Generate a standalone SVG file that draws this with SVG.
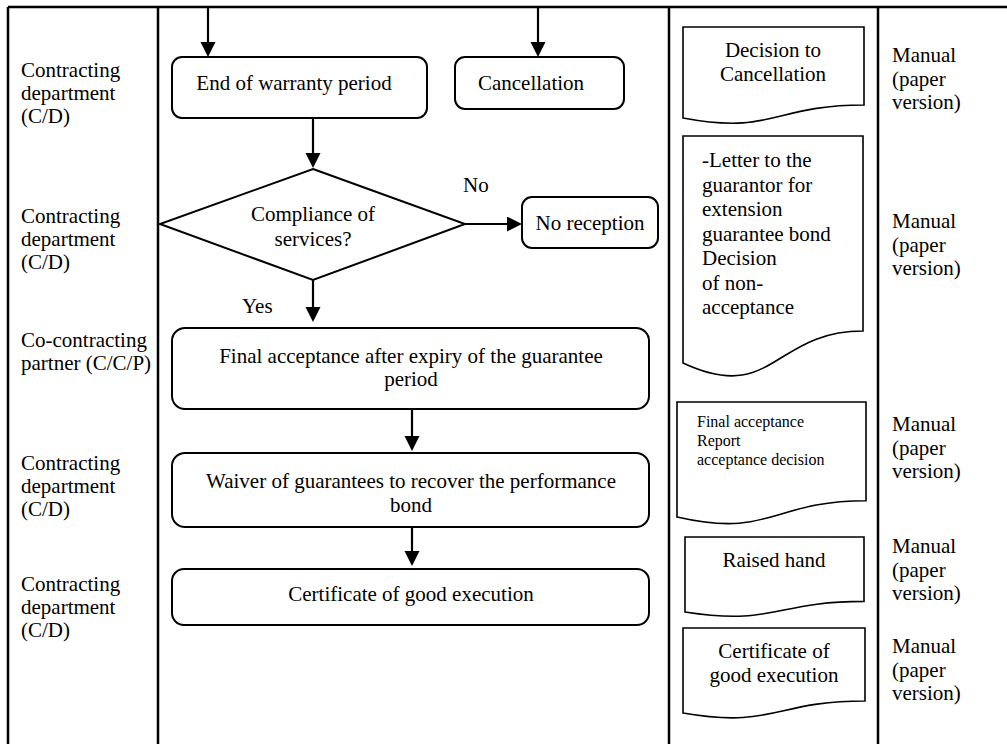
<svg xmlns="http://www.w3.org/2000/svg" width="1007" height="744" viewBox="0 0 1007 744">
  <style>
    text { font-family: "Liberation Serif", "Times New Roman", serif; font-size: 21px; fill: #000; }
    .mid { text-anchor: middle; }
    .small { font-size: 16px; }
    .lane { stroke: #000; stroke-width: 2.5; fill: none; }
    .box { fill: #fff; stroke: #000; stroke-width: 2; }
    .doc { fill: #fff; stroke: #000; stroke-width: 1.6; }
    .flow { stroke: #000; stroke-width: 2.2; fill: none; marker-end: url(#head); }
  </style>
  <defs>
    <marker id="head" markerUnits="userSpaceOnUse" markerWidth="16" markerHeight="16" refX="7" refY="7.5" orient="auto">
      <path d="M0,0 L15,7.5 L0,15 Z" fill="#000"/>
    </marker>
  </defs>
  <rect width="1007" height="744" fill="#fff"/>

  <!-- table frame and column dividers -->
  <g id="frame">
    <line class="lane" x1="8" y1="7" x2="1007" y2="7"/>
    <line class="lane" x1="8" y1="7" x2="8" y2="744"/>
    <line class="lane" x1="158" y1="7" x2="158" y2="744"/>
    <line class="lane" x1="669" y1="7" x2="669" y2="744"/>
    <line class="lane" x1="878" y1="7" x2="878" y2="744"/>
  </g>

  <!-- actor labels -->
  <g id="actors">
    <text x="21" y="77">Contracting</text>
    <text x="21" y="100">department</text>
    <text x="21" y="123">(C/D)</text>
    <text x="21" y="223">Contracting</text>
    <text x="21" y="246">department</text>
    <text x="21" y="269">(C/D)</text>
    <text x="21" y="347">Co-contracting</text>
    <text x="21" y="370">partner (C/C/P)</text>
    <text x="21" y="470">Contracting</text>
    <text x="21" y="493">department</text>
    <text x="21" y="516">(C/D)</text>
    <text x="21" y="591">Contracting</text>
    <text x="21" y="614">department</text>
    <text x="21" y="637">(C/D)</text>
  </g>

  <!-- connectors -->
  <g id="connectors">
    <line class="flow" x1="208" y1="7" x2="208" y2="49"/>
    <line class="flow" x1="538" y1="7" x2="538" y2="49"/>
    <line class="flow" x1="313" y1="118" x2="313" y2="160"/>
    <line class="flow" x1="465" y1="224" x2="514" y2="224"/>
    <line class="flow" x1="313" y1="280" x2="313" y2="314"/>
    <line class="flow" x1="412" y1="409" x2="412" y2="443"/>
    <line class="flow" x1="412" y1="527" x2="412" y2="558"/>
    <text x="463" y="192">No</text>
    <text x="242" y="313">Yes</text>
  </g>

  <!-- process steps -->
  <g id="end-of-warranty">
    <rect class="box" x="172" y="57" width="255" height="61" rx="10"/>
    <text class="mid" x="294" y="90">End of warranty period</text>
  </g>
  <g id="cancellation">
    <rect class="box" x="455" y="57" width="169" height="52" rx="10"/>
    <text class="mid" x="531" y="90">Cancellation</text>
  </g>
  <g id="compliance">
    <polygon class="box" points="313,169 465,224 313,280 160,224"/>
    <text class="mid" x="313" y="221">Compliance of</text>
    <text class="mid" x="313" y="246">services?</text>
  </g>
  <g id="no-reception">
    <rect class="box" x="522" y="197" width="136" height="51" rx="10"/>
    <text class="mid" x="590" y="230">No reception</text>
  </g>
  <g id="final-acceptance">
    <rect class="box" x="172" y="328" width="477" height="81" rx="13"/>
    <text class="mid" x="411" y="363">Final acceptance after expiry of the guarantee</text>
    <text class="mid" x="411" y="386">period</text>
  </g>
  <g id="waiver">
    <rect class="box" x="172" y="453" width="477" height="74" rx="13"/>
    <text class="mid" x="411" y="488">Waiver of guarantees to recover the performance</text>
    <text class="mid" x="411" y="512">bond</text>
  </g>
  <g id="certificate">
    <rect class="box" x="172" y="569" width="477" height="56" rx="12"/>
    <text class="mid" x="411" y="601">Certificate of good execution</text>
  </g>

  <!-- documents produced -->
  <g id="doc-cancellation">
    <path class="doc" d="M683,27 H864 V105 C773.5,105 773.5,135 683,118 Z"/>
    <text class="mid" x="773" y="57">Decision to</text>
    <text class="mid" x="773" y="81">Cancellation</text>
  </g>
  <g id="doc-non-acceptance">
    <path class="doc" d="M683,136 H863 V331 C773,331 773,405 683,363 Z"/>
    <text x="702" y="167">-Letter to the</text>
    <text x="702" y="191.5">guarantor for</text>
    <text x="702" y="216">extension</text>
    <text x="702" y="240.5">guarantee bond</text>
    <text x="702" y="265">Decision</text>
    <text x="702" y="289.5">of non-</text>
    <text x="702" y="314">acceptance</text>
  </g>
  <g id="doc-final-acceptance">
    <path class="doc" d="M677,402 H866 V500.7 C771.5,500.7 771.5,538.5 677,517 Z"/>
    <text class="small" x="697" y="427">Final acceptance</text>
    <text class="small" x="697" y="446">Report</text>
    <text class="small" x="697" y="465">acceptance decision</text>
  </g>
  <g id="doc-raised-hand">
    <path class="doc" d="M685,537 H864 V601.4 C774.5,601.4 774.5,626 685,612 Z"/>
    <text class="mid" x="774" y="567">Raised hand</text>
  </g>
  <g id="doc-certificate">
    <path class="doc" d="M683,628 H865 V701 C774,701 774,728.8 683,713 Z"/>
    <text class="mid" x="774" y="658">Certificate of</text>
    <text class="mid" x="774" y="682">good execution</text>
  </g>

  <!-- processing mode -->
  <g id="modes">
    <text x="892" y="62">Manual</text>
    <text x="892" y="85.5">(paper</text>
    <text x="892" y="109">version)</text>
    <text x="892" y="228">Manual</text>
    <text x="892" y="251.5">(paper</text>
    <text x="892" y="275">version)</text>
    <text x="892" y="431">Manual</text>
    <text x="892" y="454.5">(paper</text>
    <text x="892" y="478">version)</text>
    <text x="892" y="553">Manual</text>
    <text x="892" y="576.5">(paper</text>
    <text x="892" y="600">version)</text>
    <text x="892" y="653">Manual</text>
    <text x="892" y="676.5">(paper</text>
    <text x="892" y="700">version)</text>
  </g>
</svg>
